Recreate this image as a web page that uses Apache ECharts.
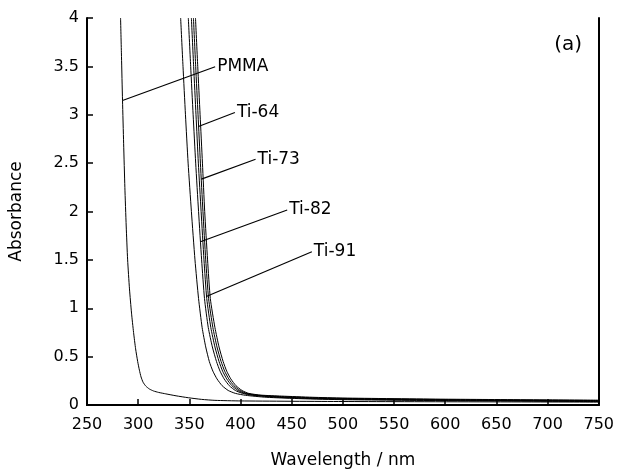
<!DOCTYPE html>
<html>
<head>
<meta charset="utf-8">
<script src="https://cdn.jsdelivr.net/npm/echarts@6/dist/echarts.min.js"></script>
<style>
html,body{margin:0;padding:0;background:#fff;}
#chart{width:617px;height:474px;}
</style>
</head>
<body>
<div id="chart"></div>
<script>
// ---- data (wavelength nm, absorbance) ----
const xTicks = [250,300,350,400,450,500,550,600,650,700,750];
const yTicks = [0,0.5,1,1.5,2,2.5,3,3.5,4];

const pmma = [[282.8,4],[283.7,3.6],[284.7,3.15],[285.8,2.7],[287,2.25],[288.3,1.85],[289.7,1.5],[291.5,1.2],[293.5,0.95],[295.5,0.75],[297.5,0.58],[299.5,0.45],[301.2,0.36],[302.8,0.29],[304.8,0.235],[307.5,0.195],[311,0.165],[315,0.145],[320,0.13],[327,0.115],[337,0.095],[349,0.075],[362,0.058],[375,0.048],[400,0.042],[500,0.036],[750,0.03]];
const ti1 = [[341.5,4],[343.8,3.5],[346.2,3],[348.8,2.5],[352,2],[355.5,1.5],[359,1.1],[362.5,0.8],[366,0.6],[369.5,0.45],[373,0.35],[377,0.27],[382,0.2],[388,0.15],[395,0.12],[405,0.1],[425,0.08],[460,0.065],[500,0.055],[600,0.045],[750,0.035]];
const ti2 = [[349,4],[351.3,3.5],[353.7,3],[356.2,2.5],[359,2],[362,1.5],[364.8,1.1],[368.5,0.8],[372.5,0.6],[376.5,0.45],[380,0.35],[384,0.27],[389,0.2],[395,0.15],[402,0.12],[412,0.1],[435,0.08],[470,0.066],[500,0.06],[600,0.05],[750,0.04]];
const ti3 = [[352,4],[354.2,3.5],[356.5,3],[358.8,2.5],[361.5,2],[364.3,1.5],[367,1.1],[371,0.8],[375,0.6],[379,0.45],[382.5,0.35],[386.5,0.27],[391.5,0.2],[397.5,0.15],[404,0.12],[415,0.1],[440,0.082],[470,0.07],[500,0.063],[600,0.052],[750,0.042]];
const ti4 = [[354,4],[356.2,3.5],[358.5,3],[360.8,2.5],[363.3,2],[366,1.5],[368.8,1.1],[373,0.8],[377,0.6],[381,0.45],[384.5,0.35],[388.5,0.27],[393.5,0.2],[399.5,0.15],[406,0.12],[418,0.1],[440,0.087],[470,0.075],[500,0.068],[600,0.056],[750,0.046]];
const ti5 = [[356,4],[358.2,3.5],[360.5,3],[362.8,2.5],[365,2],[367.8,1.5],[370.5,1.1],[375,0.8],[379,0.6],[383,0.45],[386.5,0.35],[390.5,0.27],[395.5,0.2],[401.5,0.15],[408,0.12],[420,0.102],[440,0.092],[470,0.08],[500,0.072],[600,0.06],[750,0.05]];

// leader lines: [start, end] and label text
const leaderNames = ['PMMA','Ti-64','Ti-73','Ti-82','Ti-91'];
const leaderStart = [[284.7,3.147],[358.9,2.879],[361.8,2.334],[360.8,1.687],[366.6,1.121]];
const leaderEnd   = [[375.2,3.496],[394.5,3.023],[414.7,2.540],[445.6,2.015],[469.7,1.584]];

const FONT = 'DejaVu Sans';
const chart = echarts.init(document.getElementById('chart'), null, {renderer:'canvas'});

const curveSeries = [pmma, ti1, ti2, ti3, ti4, ti5].map(d => ({
  type:'line', data:d, showSymbol:false, symbol:'none', smooth:0.2,
  lineStyle:{color:'#000', width:1}, silent:true, clip:true
}));

const leaderSeries = leaderNames.map((n,i) => ({
  type:'line',
  data:[{value:leaderStart[i], label:{show:false}}, {value:leaderEnd[i], label:{show:true}}],
  symbol:'circle', symbolSize:0, showSymbol:true,
  lineStyle:{color:'#000', width:1.2},
  label:{show:false, position:'right', distance:2, formatter:n, color:'#000',
         fontFamily:FONT, fontSize:17},
  silent:true
}));

const axisLbl = {color:'#000', fontFamily:FONT, fontSize:16};

chart.setOption({
  animation:false,
  backgroundColor:'#fff',
  title:{text:'(a)', right:30, top:30, textStyle:{color:'#000', fontFamily:FONT, fontSize:20, fontWeight:'normal'}},
  grid:{left:82, right:16, top:18, bottom:67, containLabel:false},
  xAxis:[{
    type:'value', min:250, max:750, interval:50,
    name:'Wavelength / nm', nameLocation:'middle', nameGap:47,
    nameTextStyle:{color:'#000', fontFamily:FONT, fontSize:17},
    axisLine:{show:true, lineStyle:{color:'#000', width:2}},
    axisTick:{show:true, inside:true, length:6, lineStyle:{color:'#000', width:1.5}},
    axisLabel:Object.assign({margin:12}, axisLbl, {formatter:v=>xTicks.includes(v)?String(v):''}),
    splitLine:{show:false}
  },{
    type:'value', min:250, max:750, position:'top',
    axisLine:{show:true, lineStyle:{color:'#000', width:2}},
    axisTick:{show:false}, axisLabel:{show:false}, splitLine:{show:false}
  }],
  yAxis:[{
    type:'value', min:0, max:4, interval:0.5,
    name:'Absorbance', nameLocation:'middle', nameGap:62, nameRotate:90,
    nameTextStyle:{color:'#000', fontFamily:FONT, fontSize:17},
    axisLine:{show:true, lineStyle:{color:'#000', width:2}},
    axisTick:{show:true, inside:true, length:6, lineStyle:{color:'#000', width:1.5}},
    axisLabel:Object.assign({margin:8}, axisLbl, {formatter:v=>yTicks.includes(v)?String(v):''}),
    splitLine:{show:false}
  },{
    type:'value', min:0, max:4, position:'right',
    axisLine:{show:true, lineStyle:{color:'#000', width:2}},
    axisTick:{show:false}, axisLabel:{show:false}, splitLine:{show:false}
  }],
  series: curveSeries.concat(leaderSeries)
});
</script>
</body>
</html>
